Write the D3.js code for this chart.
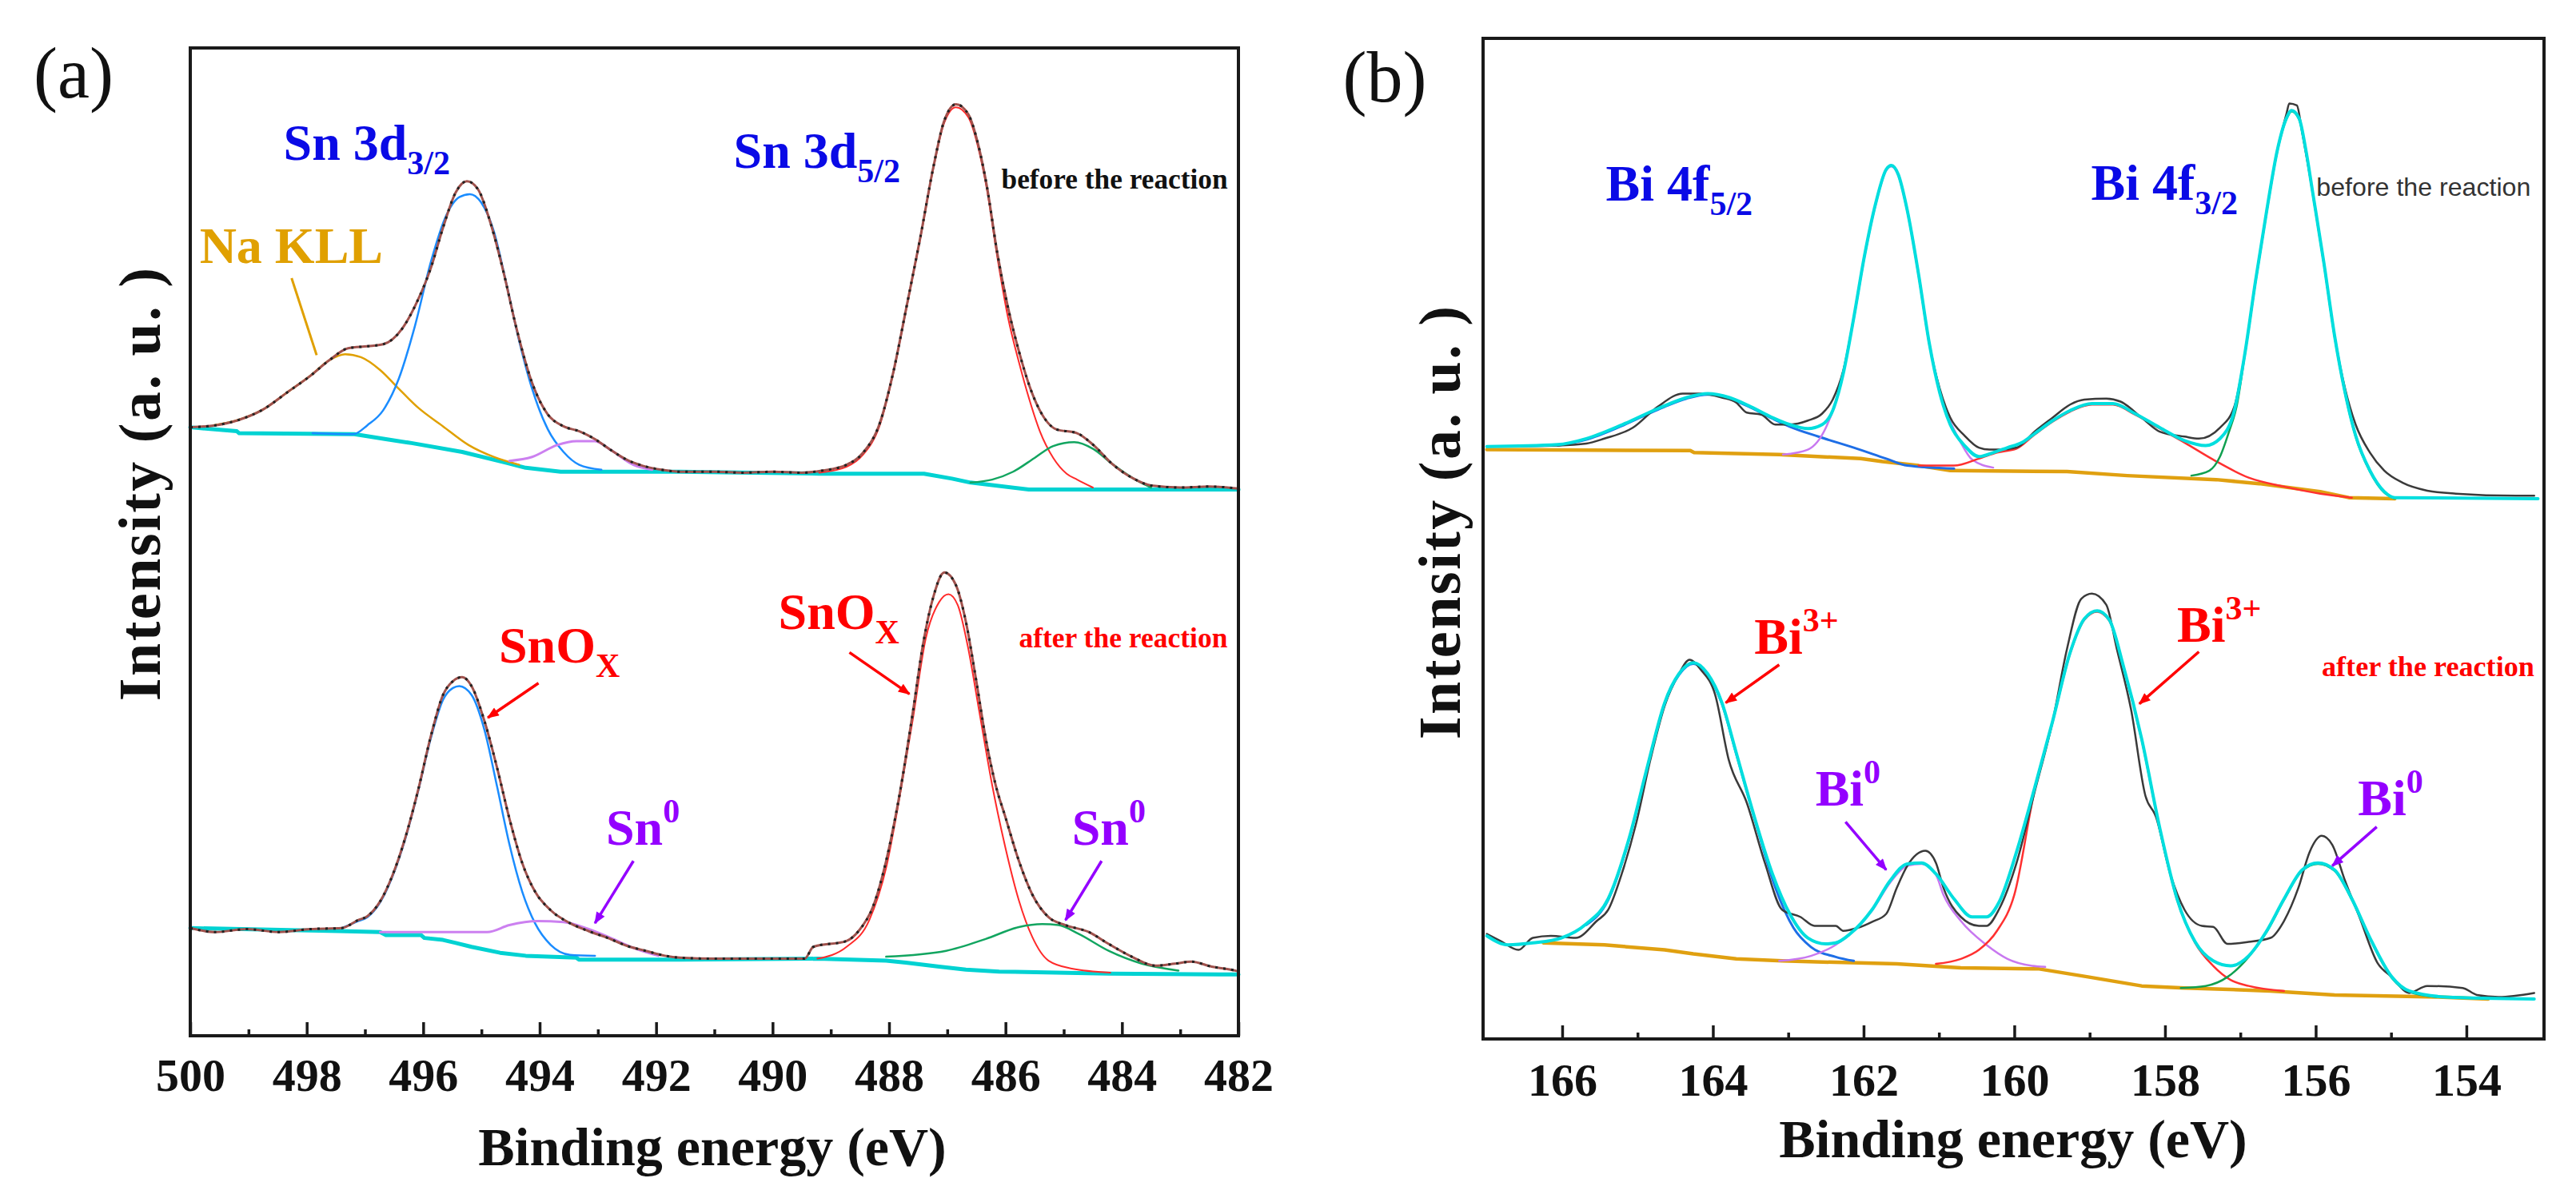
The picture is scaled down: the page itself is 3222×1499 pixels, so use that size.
<!DOCTYPE html>
<html><head><meta charset="utf-8">
<script src="https://cdn.jsdelivr.net/npm/d3@7"></script>
<style>body{margin:0;background:#fff}svg{display:block}</style>
</head><body>
<svg id="chart" width="3222" height="1499"></svg>
<script>
// ---------------- DATA (binding energy eV, intensity a.u. 0-100 of frame) ----------------
const ticksA = [500,498,496,494,492,490,488,486,484,482];
const minorA = [499,497,495,493,491,489,487,485,483];
const ticksB = [166,164,162,160,158,156,154];
const minorB = [165,163,161,159,157,155];

// Panel (a) – before the reaction
const aUpperData = [[500.0,61.6],[499.57,61.8],[499.19,62.3],[498.75,63.4],[498.32,65.2],[497.94,66.8],[497.61,68.4],[497.29,69.6],[496.96,69.8],[496.69,70.0],[496.36,71.6],[496.09,74.5],[495.87,77.7],[495.66,81.8],[495.44,85.4],[495.25,86.5],[495.06,85.7],[494.84,82.2],[494.62,77.3],[494.41,71.9],[494.13,66.1],[493.86,62.9],[493.59,61.7],[493.32,61.2],[493.05,60.4],[492.78,59.3],[492.50,58.3],[492.23,57.7],[491.91,57.3],[491.59,57.1],[491.0,57.1],[490.5,57.0],[490.0,57.1],[489.5,57.0],[489.16,57.2],[488.73,57.8],[488.45,59.0],[488.16,62.0],[487.93,67.1],[487.70,73.8],[487.47,80.6],[487.24,87.9],[487.06,92.5],[486.85,94.3],[486.64,93.3],[486.46,90.0],[486.32,86.0],[486.14,79.2],[485.96,73.8],[485.77,69.3],[485.59,65.8],[485.41,63.3],[485.13,61.4],[484.77,61.0],[484.49,59.8],[484.17,57.9],[483.80,56.4],[483.5,55.7],[483.0,55.5],[482.5,55.6],[482.0,55.4]];
const aUpperBase = [[500,61.6],[499.2,61.2],[499.16,61.0],[497.18,60.9],[496.64,60.4],[496.2,60.0],[495.33,59.1],[494.57,58.0],[494.24,57.5],[493.64,57.1],[491.6,57.1],[489.2,56.9],[487.4,56.9],[486.92,56.4],[486.6,56.0],[485.6,55.3],[482,55.3]];
const aUpperNaKLL = [[499.6,61.8],[499.2,62.3],[498.75,63.4],[498.32,65.2],[497.94,66.8],[497.61,68.4],[497.34,69.0],[497.07,68.7],[496.74,67.4],[496.42,65.5],[496.09,63.6],[495.66,61.7],[495.22,59.8],[494.79,58.6],[494.35,57.8]];
const aUpperSnOx1 = [[497.9,61.0],[497.2,60.9],[496.96,61.8],[496.69,63.3],[496.42,66.5],[496.14,71.9],[495.87,78.3],[495.60,83.1],[495.38,84.9],[495.20,85.2],[495.01,84.4],[494.79,81.5],[494.57,76.1],[494.35,70.3],[494.13,65.5],[493.86,61.4],[493.59,59.1],[493.32,57.8],[492.94,57.3]];
const aUpperSn01 = [[494.52,58.2],[494.13,58.6],[493.70,59.8],[493.37,60.2],[493.05,60.2],[492.78,59.3],[492.39,57.8],[492.07,57.3]];
const aUpperSnOx2 = [[489.2,57.0],[488.73,57.6],[488.45,58.8],[488.16,61.8],[487.93,67.0],[487.70,73.7],[487.47,80.5],[487.24,87.8],[487.06,92.3],[486.85,94.0],[486.64,93.0],[486.46,89.7],[486.32,85.7],[486.14,78.8],[485.96,72.8],[485.77,68.2],[485.59,64.4],[485.41,61.2],[485.18,58.5],[484.95,56.9],[484.77,56.3],[484.5,55.5]];
const aUpperSn02 = [[486.6,56.0],[486.23,56.3],[485.87,57.1],[485.50,58.5],[485.18,59.7],[484.82,60.1],[484.49,59.4],[484.17,57.9],[483.80,56.4],[483.5,55.5]];

// Panel (a) – after the reaction
const aLowerData = [[500,10.9],[499.57,10.5],[499.03,10.8],[498.48,10.5],[497.94,10.8],[497.40,10.9],[497.12,11.7],[496.96,12.1],[496.74,13.6],[496.53,16.2],[496.31,20.0],[496.09,24.8],[495.87,30.3],[495.66,34.5],[495.49,35.9],[495.33,36.3],[495.17,35.4],[494.95,31.9],[494.73,27.1],[494.52,22.0],[494.30,17.5],[494.08,14.6],[493.81,12.7],[493.48,11.4],[493.16,10.6],[492.83,9.9],[492.50,9.1],[492.18,8.6],[491.85,8.1],[491.59,7.9],[491.0,7.8],[490.22,7.8],[489.45,7.8],[489.30,9.0],[488.73,9.6],[488.51,10.7],[488.28,13.0],[488.05,17.7],[487.82,24.4],[487.59,32.8],[487.42,39.5],[487.25,44.2],[487.05,46.9],[486.85,45.6],[486.68,41.9],[486.51,36.2],[486.34,30.1],[486.17,25.4],[486.0,22.1],[485.77,17.7],[485.54,14.3],[485.26,12.0],[484.97,11.2],[484.57,10.5],[484.23,9.3],[483.83,8.0],[483.43,7.1],[483.09,7.3],[482.81,7.5],[482.46,7.0],[482.06,6.6],[482.0,6.5]];
const aLowerBase = [[500,10.9],[497.45,10.6],[496.74,10.5],[496.64,10.2],[496.04,10.2],[495.98,9.9],[495.66,9.7],[495.44,9.4],[495.17,9.0],[494.68,8.4],[494.24,8.1],[493.37,7.9],[493.32,7.7],[491.59,7.7],[489.23,7.8],[488.05,7.6],[487.71,7.4],[487.14,7.0],[486.68,6.7],[486.11,6.5],[484.23,6.3],[482.0,6.2]];
const aLowerSnOx1 = [[497.4,10.9],[497.12,11.6],[496.96,12.0],[496.74,13.5],[496.53,16.1],[496.31,19.9],[496.09,24.7],[495.87,30.1],[495.66,34.0],[495.49,35.2],[495.38,35.4],[495.17,34.5],[494.95,31.0],[494.73,25.2],[494.52,19.4],[494.30,14.6],[494.08,11.4],[493.81,9.2],[493.48,8.2],[493.05,8.1]];
const aLowerSn01 = [[496.74,10.5],[494.90,10.5],[494.52,11.2],[494.03,11.6],[493.59,11.5],[493.16,10.8],[492.78,9.9],[492.39,8.9],[491.96,8.1]];
const aLowerSnOx2 = [[489.23,7.8],[488.73,9.0],[488.34,11.7],[488.05,17.0],[487.82,24.1],[487.59,32.1],[487.37,40.2],[487.14,43.9],[486.98,44.7],[486.82,43.6],[486.65,39.5],[486.45,32.8],[486.23,25.4],[486.0,19.0],[485.77,13.7],[485.54,10.0],[485.26,7.6],[484.86,6.8],[484.2,6.4]];
const aLowerSn02 = [[488.05,8.0],[487.02,8.6],[486.34,9.8],[485.77,11.0],[485.37,11.3],[485.09,11.2],[484.74,10.3],[484.23,8.6],[483.66,7.3],[483.03,6.6]];

// Panel (b) – before the reaction
const bUpperData = [[167.0,59.2],[166.06,59.3],[165.68,59.5],[165.44,60.0],[165.06,61.1],[164.73,63.2],[164.40,64.5],[164.16,64.5],[163.88,64.1],[163.69,63.6],[163.55,62.6],[163.36,62.4],[163.17,61.4],[162.98,61.4],[162.74,61.8],[162.55,62.5],[162.41,63.9],[162.27,66.8],[162.13,72.1],[161.99,78.2],[161.84,83.5],[161.70,86.9],[161.63,87.3],[161.54,86.4],[161.42,82.8],[161.27,76.4],[161.13,69.6],[160.99,65.0],[160.85,62.1],[160.66,60.3],[160.47,59.1],[160.33,58.9],[160.20,58.9],[159.97,59.1],[159.73,60.7],[159.49,62.1],[159.26,63.4],[159.07,63.9],[158.78,64.0],[158.59,63.7],[158.31,62.1],[158.07,60.7],[157.74,60.2],[157.55,60.0],[157.27,61.1],[157.08,63.2],[156.94,68.5],[156.80,75.7],[156.65,82.8],[156.51,88.8],[156.39,92.4],[156.35,93.5],[156.25,93.3],[156.18,90.6],[156.04,84.6],[155.89,77.5],[155.75,70.3],[155.61,65.0],[155.47,61.4],[155.28,58.6],[155.09,56.8],[154.85,55.6],[154.52,54.8],[154.14,54.5],[153.34,54.3],[153.1,54.3]];
const bUpperFit = [[167.0,59.2],[166.06,59.4],[165.68,60.0],[165.20,61.4],[164.73,63.0],[164.35,64.1],[164.07,64.5],[163.78,64.1],[163.50,63.2],[163.21,62.1],[162.98,61.4],[162.74,61.0],[162.55,61.4],[162.41,62.8],[162.27,66.5],[162.13,72.1],[161.99,78.2],[161.84,83.5],[161.70,86.9],[161.63,87.3],[161.54,86.4],[161.42,82.8],[161.27,76.4],[161.13,69.6],[160.99,64.6],[160.85,61.4],[160.66,59.3],[160.47,58.2],[160.28,58.6],[160.09,59.1],[159.90,59.6],[159.73,60.5],[159.49,61.8],[159.26,62.8],[158.97,63.5],[158.69,63.5],[158.40,62.5],[158.07,61.1],[157.74,59.8],[157.46,59.3],[157.27,60.0],[157.08,62.8],[156.94,68.5],[156.80,75.7],[156.65,82.8],[156.51,88.8],[156.39,92.0],[156.32,92.8],[156.22,92.0],[156.13,88.8],[156.04,84.6],[155.89,77.5],[155.75,70.3],[155.61,64.6],[155.47,60.3],[155.28,56.8],[155.09,54.7],[154.95,54.1],[153.05,54.0]];
const bUpperBase = [[167.0,58.9],[164.30,58.8],[164.25,58.6],[163.12,58.4],[162.04,58.0],[161.75,57.7],[161.27,57.3],[160.85,56.8],[159.3,56.7],[158.5,56.3],[157.32,55.9],[156.75,55.5],[155.94,54.7],[155.56,54.1],[154.95,54.0]];
const bUpperBi3a = [[166.06,59.3],[165.68,59.9],[165.20,61.3],[164.73,62.9],[164.35,64.0],[164.07,64.4],[163.78,64.0],[163.50,63.1],[163.21,62.0],[162.98,61.2],[162.6,60.2],[162.13,59.1],[161.7,58.0],[161.42,57.3],[160.80,57.0]];
const bUpperBi0a = [[163.07,58.4],[162.74,58.9],[162.5,61.1],[162.36,63.9],[162.27,66.6],[162.13,72.0],[161.99,78.1],[161.84,83.4],[161.70,86.8],[161.63,87.2],[161.54,86.3],[161.42,82.7],[161.27,76.3],[161.13,69.5],[160.99,64.8],[160.71,59.6],[160.56,57.9],[160.28,57.1]];
const bUpperBi3b = [[161.27,57.3],[160.80,57.3],[160.47,58.0],[160.23,58.6],[159.97,59.0],[159.73,60.4],[159.49,61.7],[159.26,62.7],[158.97,63.4],[158.69,63.4],[158.40,62.4],[158.07,61.0],[157.74,59.6],[157.36,57.9],[156.89,56.1],[156.42,55.2],[155.94,54.5],[155.52,54.1]];
const bUpperBi0b = [[157.65,56.3],[157.41,56.8],[157.27,58.2],[157.15,60.7],[157.05,63.2],[156.94,68.4],[156.80,75.6],[156.65,82.7],[156.51,88.7],[156.39,91.9],[156.32,92.7],[156.22,91.9],[156.13,88.7],[156.04,84.5],[155.89,77.4],[155.75,70.2],[155.61,64.5],[155.47,60.2],[155.28,56.7],[155.09,54.6],[154.95,54.0]];

// Panel (b) – after the reaction
const bLowerData = [[167.0,10.5],[166.82,9.8],[166.58,8.9],[166.39,10.1],[166.15,10.3],[165.82,10.1],[165.54,11.8],[165.39,12.9],[165.21,16.5],[165.02,21.5],[164.83,27.9],[164.64,33.3],[164.45,36.5],[164.31,37.9],[164.16,36.9],[163.97,34.4],[163.79,27.9],[163.55,23.6],[163.31,17.6],[163.08,12.9],[162.84,12.2],[162.65,11.3],[162.37,11.3],[162.27,10.8],[162.08,11.1],[161.89,11.7],[161.70,12.5],[161.56,15.1],[161.42,17.3],[161.18,18.8],[161.04,17.6],[160.94,15.1],[160.71,12.2],[160.47,11.3],[160.37,11.3],[160.20,13.0],[159.97,17.6],[159.73,24.7],[159.49,31.8],[159.30,39.0],[159.11,44.0],[158.97,44.5],[158.78,43.4],[158.64,39.0],[158.45,32.9],[158.26,24.3],[158.12,22.2],[157.93,16.5],[157.74,12.9],[157.51,11.3],[157.36,11.2],[157.17,9.5],[156.89,9.7],[156.60,10.1],[156.42,11.8],[156.23,15.1],[156.08,18.7],[155.92,20.3],[155.78,19.4],[155.61,15.8],[155.42,12.2],[155.18,7.6],[154.99,6.2],[154.76,4.6],[154.52,5.3],[154.05,5.1],[153.86,4.4],[153.57,4.2],[153.10,4.6]];
const bLowerFit = [[167.0,10.3],[166.72,9.4],[166.39,9.6],[166.01,10.1],[165.68,11.5],[165.39,14.0],[165.11,20.1],[164.87,27.2],[164.64,33.6],[164.45,36.5],[164.26,37.6],[164.07,36.5],[163.88,33.6],[163.69,28.6],[163.45,22.2],[163.21,16.5],[162.98,12.5],[162.74,10.1],[162.50,9.5],[162.37,9.6],[162.18,10.5],[161.89,12.9],[161.65,15.8],[161.42,17.5],[161.23,17.6],[161.04,16.5],[160.80,14.0],[160.56,12.2],[160.37,12.2],[160.20,13.7],[159.97,18.7],[159.73,25.1],[159.49,31.8],[159.26,38.6],[159.07,42.0],[158.90,42.8],[158.74,41.9],[158.55,37.2],[158.31,30.0],[158.07,21.1],[157.84,14.0],[157.60,9.7],[157.36,7.8],[157.13,7.3],[156.89,8.3],[156.65,10.8],[156.42,14.0],[156.18,16.9],[155.97,17.6],[155.75,16.9],[155.52,14.0],[155.28,10.1],[154.99,6.2],[154.76,4.8],[154.28,4.2],[153.10,4.0]];
const bLowerBase = [[166.25,9.6],[165.44,9.4],[164.64,8.9],[164.26,8.5],[163.69,8.0],[163.08,7.8],[161.56,7.5],[160.71,7.1],[159.67,7.0],[159.02,6.2],[158.31,5.3],[157.74,5.1],[156.60,4.8],[155.75,4.4],[154.38,4.2],[153.71,4.0]];
const bLowerBi3a = [[165.68,11.4],[165.39,13.9],[165.11,20.0],[164.87,27.1],[164.64,33.5],[164.45,36.4],[164.26,37.5],[164.07,36.4],[163.88,33.5],[163.69,28.5],[163.45,22.1],[163.17,15.1],[162.93,11.1],[162.70,9.2],[162.37,8.2],[162.13,7.8]];
const bLowerBi0a = [[163.12,7.8],[162.70,8.3],[162.37,9.4],[162.13,10.8],[161.89,12.8],[161.65,15.6],[161.42,17.3],[161.23,17.5],[161.04,16.4],[160.94,14.4],[160.71,11.8],[160.37,9.4],[160.09,8.0],[159.76,7.3],[159.59,7.2]];
const bLowerBi3b = [[161.04,7.5],[160.71,8.0],[160.47,8.9],[160.23,10.8],[160.0,14.4],[159.73,24.9],[159.49,31.7],[159.26,38.5],[159.07,41.9],[158.90,42.7],[158.74,41.8],[158.55,37.1],[158.31,29.9],[158.07,21.0],[157.84,13.9],[157.60,9.6],[157.36,7.3],[157.13,5.9],[156.89,5.3],[156.42,4.8]];
const bLowerBi0b = [[157.79,5.1],[157.46,5.3],[157.17,6.2],[156.89,8.2],[156.65,10.7],[156.42,13.9],[156.18,16.8],[155.97,17.5],[155.75,16.8],[155.52,13.9],[155.28,10.0],[154.99,6.1],[154.76,4.7],[154.4,4.2]];

// Annotations (anchor in eV / intensity units)
const annotationsA = [
  {at:[498.40,88.7], main:"Sn 3d", sub:"3/2", color:"#0a0ae6"},
  {at:[490.67,87.9], main:"Sn 3d", sub:"5/2", color:"#0a0ae6"},
  {at:[499.84,78.2], main:"Na KLL", color:"#e0a000"},
  {at:[494.70,37.8], main:"SnO", sub:"X", color:"#ff0000"},
  {at:[489.90,41.2], main:"SnO", sub:"X", color:"#ff0000"},
  {at:[492.86,19.3], main:"Sn", sup:"0", color:"#9400ff"},
  {at:[484.86,19.3], main:"Sn", sup:"0", color:"#9400ff"}
];
const arrowsA = [
  {from:[498.26,76.7], to:[497.83,68.9], color:"#e0a000", head:false},
  {from:[494.02,35.7], to:[494.89,32.2], color:"#ff0000", head:true},
  {from:[488.68,38.8], to:[487.65,34.6], color:"#ff0000", head:true},
  {from:[492.39,17.7], to:[493.05,11.4], color:"#9400ff", head:true},
  {from:[484.35,17.7], to:[484.97,11.7], color:"#9400ff", head:true}
];
const annotationsB = [
  {at:[165.42,83.8], main:"Bi 4f", sub:"5/2", color:"#0a0ae6"},
  {at:[158.98,83.9], main:"Bi 4f", sub:"3/2", color:"#0a0ae6"},
  {at:[163.45,38.5], main:"Bi", sup:"3+", color:"#ff0000"},
  {at:[157.84,39.7], main:"Bi", sup:"3+", color:"#ff0000"},
  {at:[162.64,23.3], main:"Bi", sup:"0", color:"#9400ff"},
  {at:[155.44,22.4], main:"Bi", sup:"0", color:"#9400ff"}
];
const arrowsB = [
  {from:[163.12,37.4], to:[163.83,33.6], color:"#ff0000", head:true},
  {from:[157.55,38.7], to:[158.34,33.5], color:"#ff0000", head:true},
  {from:[162.24,21.7], to:[161.70,16.9], color:"#9400ff", head:true},
  {from:[155.19,21.2], to:[155.78,17.3], color:"#9400ff", head:true}
];
const stateNotesA = [
  {at:[486.07,85.8], text:"before the reaction", color:"#111", len:283, sans:false},
  {at:[485.77,39.3], text:"after the reaction", color:"#ff0000", len:261, sans:false}
];
const stateNotesB = [
  {at:[155.99,84.3], text:"before the reaction", color:"#333", len:268, sans:true},
  {at:[155.92,36.3], text:"after the reaction", color:"#ff0000", len:266, sans:false}
];

// ---------------- DRAWING ----------------
const SERIF = "'Liberation Serif','Times New Roman',Times,serif";
const SANS = "'Liberation Sans',Arial,sans-serif";
const svg = d3.select("#chart");
svg.append("rect").attr("width",3222).attr("height",1499).attr("fill","#fff");

const defs = svg.append("defs");
["#ff0000","#9400ff"].forEach((c,i)=>{
  defs.append("marker").attr("id","ah"+i).attr("viewBox","0 0 10 8")
    .attr("refX",9).attr("refY",4).attr("markerWidth",16).attr("markerHeight",12)
    .attr("markerUnits","userSpaceOnUse").attr("orient","auto")
    .append("path").attr("d","M0,0 L10,4 L0,8 z").attr("fill",c);
});
const markerFor = c => c==="#ff0000" ? "url(#ah0)" : "url(#ah1)";

const panels = [
  {x0:238, x1:1549, y0:60, y1:1296, domain:[500,482], major:ticksA, minor:minorA, pad:27.5,
   tag:"(a)", tagX:92, tagY:122, ytX:200, ytY:605, xtX:891, xtY:1458,
   layers:[
     {d:aUpperBase, c:"#00d2d2", w:5, lin:true},
     {d:aLowerBase, c:"#00d2d2", w:5, lin:true},
     {d:aUpperNaKLL, c:"#e0a000", w:2.5},
     {d:aUpperSnOx1, c:"#1a8cff", w:2.5},
     {d:aUpperSn01, c:"#cc80f0", w:3},
     {d:aUpperSnOx2, c:"#ff2a2a", w:2},
     {d:aUpperSn02, c:"#12a560", w:2.5},
     {d:aLowerSnOx1, c:"#1a8cff", w:2.5},
     {d:aLowerSn01, c:"#cc80f0", w:3},
     {d:aLowerSnOx2, c:"#ff2a2a", w:2},
     {d:aLowerSn02, c:"#12a560", w:2.5},
     {d:aUpperData, c:"#a0524d", w:3},
     {d:aUpperData, c:"#222", w:3, dash:"3,7"},
     {d:aLowerData, c:"#a0524d", w:3},
     {d:aLowerData, c:"#222", w:3, dash:"3,7"}
   ], ann:annotationsA, arrows:arrowsA, notes:stateNotesA},
  {x0:1855, x1:3182, y0:48, y1:1300, domain:[167.05,152.97], major:ticksB, minor:minorB, pad:29.5,
   tag:"(b)", tagX:1732, tagY:127, ytX:1826, ytY:653, xtX:2518, xtY:1448,
   layers:[
     {d:bUpperBase, c:"#e0a010", w:4.5, lin:true},
     {d:bLowerBase, c:"#e0a010", w:4.5, lin:true},
     {d:bUpperBi3a, c:"#1e6ee6", w:3},
     {d:bUpperBi0a, c:"#c878f0", w:2.5},
     {d:bUpperBi3b, c:"#ff3030", w:2.5},
     {d:bUpperBi0b, c:"#10a050", w:2.5},
     {d:bLowerBi3a, c:"#1e6ee6", w:3},
     {d:bLowerBi0a, c:"#c878f0", w:2.5},
     {d:bLowerBi3b, c:"#ff3030", w:2.5},
     {d:bLowerBi0b, c:"#10a050", w:2.5},
     {d:bUpperData, c:"#3a3a3a", w:2.5},
     {d:bLowerData, c:"#3a3a3a", w:2.5},
     {d:bUpperFit, c:"#00dede", w:4},
     {d:bLowerFit, c:"#00dede", w:4}
   ], ann:annotationsB, arrows:arrowsB, notes:stateNotesB}
];

panels.forEach(p => {
  const x = d3.scaleLinear().domain(p.domain).range([p.x0, p.x1]);
  const y = d3.scaleLinear().domain([0,100]).range([p.y1, p.y0]);
  const g = svg.append("g");

  p.layers.forEach(L => {
    const line = d3.line().x(d=>x(d[0])).y(d=>y(d[1]))
      .curve(L.lin ? d3.curveLinear : d3.curveMonotoneX);
    g.append("path").datum(L.d).attr("d", line)
      .attr("fill","none").attr("stroke",L.c).attr("stroke-width",L.w)
      .attr("stroke-dasharray", L.dash || null)
      .attr("stroke-linejoin","round").attr("stroke-linecap", L.dash ? "butt" : "round");
  });

  // axes: major and minor inward ticks
  const axG = g.append("g").attr("transform",`translate(0,${p.y1})`);
  axG.call(d3.axisBottom(x).tickValues(p.major).tickSize(-17).tickPadding(p.pad).tickFormat(d3.format("d")));
  axG.append("g").call(d3.axisBottom(x).tickValues(p.minor).tickSize(-8).tickFormat(""));
  axG.selectAll(".domain").remove();
  axG.attr("font-family",SERIF);
  axG.selectAll("line").attr("stroke","#1a1a1a").attr("stroke-width",3.5);
  axG.selectAll("text").attr("font-family",SERIF).style("font-family",SERIF).attr("font-weight","bold")
    .attr("font-size",58).attr("fill","#111");

  // frame
  g.append("rect").attr("x",p.x0).attr("y",p.y0).attr("width",p.x1-p.x0).attr("height",p.y1-p.y0)
    .attr("fill","none").attr("stroke","#1a1a1a").attr("stroke-width",4);

  // titles
  g.append("text").attr("x",p.xtX).attr("y",p.xtY).attr("text-anchor","middle")
    .attr("font-family",SERIF).attr("font-weight","bold").attr("font-size",68).attr("fill","#111")
    .text("Binding energy (eV)");
  g.append("text").attr("transform",`translate(${p.ytX},${p.ytY}) rotate(-90)`).attr("text-anchor","middle")
    .attr("font-family",SERIF).attr("font-weight","bold").attr("font-size",74).attr("fill","#111")
    .attr("letter-spacing",2.5)
    .text("Intensity (a. u. )");
  g.append("text").attr("x",p.tagX).attr("y",p.tagY).attr("text-anchor","middle")
    .attr("font-family",SERIF).attr("font-size",90).attr("fill","#111").text(p.tag);

  // arrows
  p.arrows.forEach(a => {
    g.append("line").attr("x1",x(a.from[0])).attr("y1",y(a.from[1]))
      .attr("x2",x(a.to[0])).attr("y2",y(a.to[1]))
      .attr("stroke",a.color).attr("stroke-width", a.head ? 3.5 : 3)
      .attr("marker-end", a.head ? markerFor(a.color) : null);
  });

  // peak labels
  p.ann.forEach(a => {
    const t = g.append("text").attr("x",x(a.at[0])).attr("y",y(a.at[1]))
      .attr("font-family",SERIF).attr("font-weight","bold").attr("font-size",64).attr("fill",a.color);
    t.append("tspan").text(a.main);
    if (a.sub) t.append("tspan").attr("font-size",42).attr("dy",18).text(a.sub);
    if (a.sup) t.append("tspan").attr("font-size",42).attr("dy",-28).text(a.sup);
  });

  // state notes
  p.notes.forEach(n => {
    g.append("text").attr("x",x(n.at[0])).attr("y",y(n.at[1]))
      .attr("font-family", n.sans ? SANS : SERIF).attr("font-weight", n.sans ? "normal" : "bold")
      .attr("font-size", n.sans ? 32 : 36).attr("fill",n.color)
      .attr("textLength",n.len).attr("lengthAdjust","spacingAndGlyphs").text(n.text);
  });
});
</script>
</body></html>
